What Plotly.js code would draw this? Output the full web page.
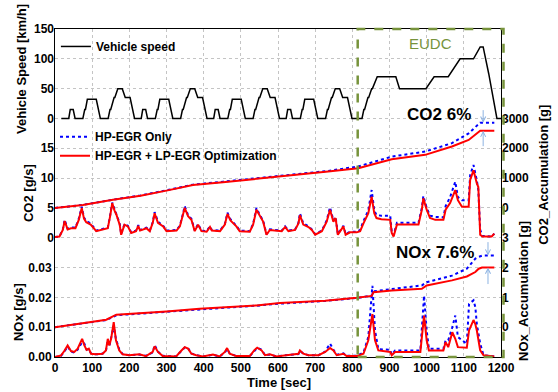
<!DOCTYPE html>
<html><head><meta charset="utf-8">
<script src="https://cdn.plot.ly/plotly-3.0.1.min.js"></script>
<style>html,body{margin:0;padding:0;background:#fff}#chart{width:558px;height:392px}</style>
</head><body><div id="chart"></div>
<script>
// ---------- tick labels ----------
const timeTicks = [0,100,200,300,400,500,600,700,800,900,1000,1100,1200];
const speedTicks = [0,50,100,150];
const co2RateTicks = [0,5,10,15];
const co2AccTicks = [0,1000,2000,3000];
const noxRateTicks = [0,0.01,0.02,0.03];
const noxRateTickText = ['0.00','0.01','0.02','0.03'];
const noxAccTicks = [0,1,2,3];
const gridLevels = [0,0.01,0.02,0.03,0.04,0.05,0.06,0.07,0.08,0.09,0.10,0.11];

// ---------- vehicle speed [km/h] ----------
const speedT = [17,37,41,49,54,75,80,82,87,111,122,143,148,150,159,161,169,181,189,202,214,
  232,236,244,249,270,275,277,282,306,317,338,343,345,354,356,364,376,384,397,409,
  427,431,439,444,465,470,472,477,501,512,533,538,540,549,551,559,571,579,592,604,
  622,626,634,639,660,665,667,672,696,707,728,733,735,744,746,754,766,774,787,799,
  826,831,833,842,844,852,854,867,917,927,998,1020,1058,1090,1126,1144,1152,1167,1180,1189,1200];
const speedV = [0,0,15,15,0,0,15,15,32,32,0,0,15,15,35,35,50,50,35,35,0,
  0,15,15,0,0,15,15,32,32,0,0,15,15,35,35,50,50,35,35,0,
  0,15,15,0,0,15,15,32,32,0,0,15,15,35,35,50,50,35,35,0,
  0,15,15,0,0,15,15,32,32,0,0,15,15,35,35,50,50,35,35,0,
  0,15,15,35,35,50,50,70,70,50,50,70,70,100,100,120,120,75,33,0,0];

// ---------- CO2 rate [g/s] ----------
const co2T = [0,12,21,26,34,43,55,64,72,78,84,96,111,123,142,148,154,160,165,174,178,187,196,205,218,224,229,246,255,263,268,277,291,300,327,336,343,349,358,367,376,385,394,408,417,422,444,457,464,472,488,497,524,533,542,551,560,569,578,591,600,610,619,628,646,655,659,668,682,691,700,718,731,740,749,755,761,767,776,782,794,812,821,830,843,852,859,865,878,902,906,911,920,933,978,987,991,1000,1009,1023,1045,1051,1063,1077,1084,1095,1113,1117,1126,1135,1139,1144,1150,1175,1182];
const co2HP = [0.1,0.2,1.4,3.0,1.5,1.7,1.7,3.2,5.2,3.4,2.8,2.4,1.2,1.4,1.7,3.6,5.9,4.8,4.0,2.4,0.6,2.3,2.0,0.9,1.2,2.1,1.3,1.7,1.2,2.6,4.3,2.7,2.0,1.2,1.3,2.0,3.7,5.3,3.8,3.2,1.2,2.3,1.2,1.1,1.9,1.3,1.2,2.3,4.2,3.1,2.0,1.2,1.1,2.3,5.0,3.8,2.9,0.6,1.4,1.3,1.2,1.2,1.9,1.2,1.4,2.5,4.1,2.4,1.9,1.4,0.6,1.2,2.9,5.1,2.9,3.5,0.6,1.2,2.0,0.6,1.0,1.0,1.3,2.8,4.6,8.0,4.6,3.8,3.7,3.7,1.0,0.4,2.5,2.5,2.5,5.0,7.0,5.0,3.7,3.5,3.4,5.3,6.8,9.4,6.8,6.3,6.3,10.5,12.2,9.6,8.0,1.3,0.3,0.2,0.7];
const co2Opt = [0.1,0.2,1.3,2.8,1.4,1.6,1.6,3.0,5.0,3.2,2.6,2.2,1.1,1.3,1.6,3.5,5.8,4.6,3.9,2.2,0.5,2.2,1.9,0.8,1.1,2.0,1.2,1.6,1.1,2.5,4.1,2.5,1.9,1.1,1.2,1.9,3.6,5.0,3.6,3.0,1.1,2.2,1.1,1.0,1.8,1.2,1.1,2.2,4.0,2.9,1.9,1.1,1.0,2.2,4.7,3.6,2.7,0.5,1.3,1.2,1.1,1.1,1.8,1.1,1.3,2.4,3.8,2.2,1.8,1.3,0.5,1.1,2.7,4.7,2.7,3.3,0.5,1.1,1.9,0.5,0.9,0.9,1.1,2.4,4.1,6.9,4.1,3.3,3.1,3.0,0.8,0.2,2.2,2.2,2.2,4.7,6.6,4.7,3.3,3.0,3.0,4.7,5.8,8.0,6.3,5.2,5.2,9.7,11.3,9.1,8.5,0.5,0.2,0.2,0.7];

// ---------- CO2 accumulation [g] ----------
const co2AccT = [0,75,156,230,300,371,452,542,605,680,735,816,860,906,996,1068,1113,1144,1182];
const co2AccHP = [0,100,275,420,590,780,880,990,1070,1160,1240,1390,1540,1720,1890,2170,2500,2860,2860];
const co2AccOpt = [0,100,270,410,580,770,860,970,1050,1140,1220,1330,1470,1630,1780,2060,2280,2590,2590];

// ---------- NOx rate [g/s] ----------
const noxT = [0,16,25,34,43,52,61,73,79,85,91,97,110,128,137,142,146,151,158,164,173,182,200,227,245,263,268,277,290,326,339,349,358,367,380,398,425,443,457,463,470,488,524,537,544,556,565,578,596,619,655,659,668,682,709,727,740,749,758,776,785,812,830,843,854,861,870,902,906,915,983,993,1000,1006,1045,1051,1058,1069,1077,1084,1108,1114,1126,1131,1135,1144,1153,1182];
const noxHP = [0,0.0004,0.0018,0.0035,0.0018,0.0015,0.0025,0.0050,0.0045,0.0025,0.0025,0.0012,0.0009,0.0011,0.0020,0.0055,0.0035,0.0060,0.0105,0.0060,0.0025,0.0010,0.0006,0.0008,0.0004,0.0015,0.0040,0.0018,0.0004,0.0002,0.0018,0.0032,0.0030,0.0012,0.0006,0.0002,0.0007,0.0002,0.0015,0.0027,0.0012,0.0003,0.0003,0.0022,0.0030,0.0025,0.0006,0.0008,0.0002,0.0006,0.0010,0.0020,0.0012,0.0006,0.0006,0.0018,0.0045,0.0025,0.0008,0.0012,0.0004,0.0004,0.0015,0.0067,0.0239,0.0089,0.0026,0.0024,0.0008,0.0022,0.0022,0.0206,0.0089,0.0028,0.0028,0.0056,0.0056,0.0100,0.0139,0.0067,0.0044,0.0178,0.0190,0.0167,0.0110,0.0045,0.0006,0.0002];
const noxOpt = [0,0.0005,0.0020,0.0039,0.0020,0.0017,0.0028,0.0061,0.0039,0.0024,0.0028,0.0011,0.0009,0.0011,0.0022,0.0061,0.0039,0.0061,0.0117,0.0056,0.0022,0.0009,0.0006,0.0009,0.0003,0.0017,0.0036,0.0017,0.0003,0.0002,0.0020,0.0033,0.0028,0.0011,0.0006,0.0002,0.0008,0.0002,0.0017,0.0030,0.0011,0.0003,0.0003,0.0024,0.0031,0.0022,0.0006,0.0009,0.0002,0.0006,0.0011,0.0022,0.0011,0.0006,0.0006,0.0017,0.0030,0.0022,0.0006,0.0011,0.0003,0.0003,0.0011,0.0056,0.0144,0.0056,0.0022,0.0017,0.0006,0.0017,0.0017,0.0139,0.0056,0.0022,0.0022,0.0050,0.0033,0.0083,0.0061,0.0033,0.0031,0.0089,0.0124,0.0110,0.0089,0.0022,0.0006,0.0002];

// ---------- NOx accumulation [g] ----------
const noxAccT = [0,75,138,165,210,300,389,479,542,605,727,812,852,857,906,987,1000,1068,1108,1131,1140,1149,1182];
const noxAccHP = [0,0.12,0.24,0.40,0.44,0.52,0.61,0.67,0.72,0.79,0.88,0.98,1.06,1.20,1.28,1.40,1.51,1.73,1.96,2.30,2.36,2.40,2.40];
const noxAccOpt = [0,0.13,0.25,0.42,0.45,0.53,0.62,0.68,0.73,0.81,0.89,0.99,1.05,1.17,1.23,1.29,1.40,1.57,1.70,1.85,1.96,2.00,2.00];

const seriesNames = ['Vehicle speed','HP-EGR Only','HP-EGR + LP-EGR Optimization'];

const BLUE = '#0000ff', RED = '#ff0000', OLIVE = '#77933c', ARROW = '#8db3e2';
const blueLine = {color: BLUE, width: 2, dash: 'dot'};
const redLine = {color: RED, width: 2};

const traces = [
  {x: noxT, y: noxHP, yaxis: 'y', mode: 'lines', line: blueLine, showlegend: false, legendgroup: 'hp'},
  {x: noxT, y: noxOpt, yaxis: 'y', mode: 'lines', line: redLine, showlegend: false, legendgroup: 'opt'},
  {x: noxAccT, y: noxAccHP, yaxis: 'y2', mode: 'lines', line: blueLine, showlegend: false, legendgroup: 'hp'},
  {x: noxAccT, y: noxAccOpt, yaxis: 'y2', mode: 'lines', line: redLine, showlegend: false, legendgroup: 'opt'},
  {x: co2T, y: co2HP, yaxis: 'y3', mode: 'lines', line: blueLine, name: seriesNames[1], legend: 'legend2', legendgroup: 'hp'},
  {x: co2T, y: co2Opt, yaxis: 'y3', mode: 'lines', line: redLine, name: seriesNames[2], legend: 'legend2', legendgroup: 'opt'},
  {x: co2AccT, y: co2AccHP, yaxis: 'y4', mode: 'lines', line: blueLine, showlegend: false, legendgroup: 'hp'},
  {x: co2AccT, y: co2AccOpt, yaxis: 'y4', mode: 'lines', line: redLine, showlegend: false, legendgroup: 'opt'},
  {x: speedT, y: speedV, yaxis: 'y5', mode: 'lines', line: {color: '#000', width: 1.5}, name: seriesNames[0], legend: 'legend'}
];

const FAM = 'Arial, "Liberation Sans", sans-serif';
const tickFont = {family: FAM, size: 12, weight: 'bold', color: '#000'};
const titleFont = {family: FAM, size: 13, weight: 'bold', color: '#000'};
const baseY = {showgrid: false, zeroline: false, ticks: '', tickfont: tickFont, showline: false, fixedrange: true};

const last = a => a[a.length - 1];
function label(text, x, y, font, angle) {
  return {xref: 'paper', yref: 'paper', x: x, y: y, xanchor: 'center', yanchor: 'middle',
          text: text, textangle: angle || 0, showarrow: false, font: font};
}
function arrow(yref, x, y, ay) {
  return {xref: 'x', yref: yref, x: x, y: y, ax: 0, ay: ay, showarrow: true, arrowhead: 5,
          arrowsize: 1, arrowwidth: 1, arrowcolor: ARROW, text: ''};
}
const bigFont = {family: FAM, size: 17, weight: 'bold', color: '#000'};

const layout = {
  width: 558, height: 392,
  margin: {l: 55, r: 57, t: 29, b: 35, pad: 0},
  paper_bgcolor: '#fff', plot_bgcolor: '#fff',
  font: {family: FAM, color: '#000', size: 12},
  xaxis: {range: [0, 1200], tickvals: timeTicks, ticktext: timeTicks.map(String), showgrid: true,
    gridcolor: '#c4c4c4', griddash: 'dot', gridwidth: 1, showline: true, mirror: true, linecolor: '#000', linewidth: 1,
    ticks: '', zeroline: false, tickfont: tickFont, fixedrange: true},
  yaxis: Object.assign({}, baseY, {range: [0, 0.11], tickvals: gridLevels,
    ticktext: gridLevels.map((v, i) => i < noxRateTickText.length ? noxRateTickText[i] : ''),
    showgrid: true, gridcolor: '#c4c4c4', griddash: 'dot', gridwidth: 1,
    showline: true, mirror: true, linecolor: '#000', linewidth: 1}),
  yaxis2: Object.assign({}, baseY, {overlaying: 'y', side: 'right', range: [-1, 10], tickvals: noxAccTicks}),
  yaxis3: Object.assign({}, baseY, {overlaying: 'y', side: 'left', range: [-20, 35], tickvals: co2RateTicks}),
  yaxis4: Object.assign({}, baseY, {overlaying: 'y', side: 'right', range: [-5000, 6000], tickvals: co2AccTicks}),
  yaxis5: Object.assign({}, baseY, {overlaying: 'y', side: 'left', range: [-400, 150], tickvals: speedTicks}),
  legend: {x: 0.002, xanchor: 'left', y: 0.991, yanchor: 'top', bgcolor: 'rgba(0,0,0,0)', borderwidth: 0,
    font: {family: FAM, size: 12, weight: 'bold', color: '#000'}},
  legend2: {x: 0.0, xanchor: 'left', y: 0.716, yanchor: 'top', bgcolor: 'rgba(0,0,0,0)', borderwidth: 0, tracegroupgap: 0,
    font: {family: FAM, size: 12, weight: 'bold', color: '#000'}},
  shapes: [
    {type: 'rect', xref: 'paper', yref: 'paper', x0: 0.6787, x1: 1.0056, y0: 0, y1: 1,
     line: {color: OLIVE, width: 2.5, dash: 'dash'}, fillcolor: 'rgba(0,0,0,0)', layer: 'above'}
  ],
  annotations: [
    label('EUDC', 0.843, 0.957, {family: FAM, size: 15, color: OLIVE}),
    label('CO2 6%', 0.862, 0.738, bigFont),
    label('NOx 7.6%', 0.853, 0.320, bigFont),
    label('Time [sec]', 0.502, -0.078, titleFont),
    label('Vehicle Speed [km/h]', -0.0762, 0.878, titleFont, -90),
    label('CO2 [g/s]', -0.0605, 0.50, titleFont, -90),
    label('NOx [g/s]', -0.083, 0.137, titleFont, -90),
    label('CO2_Accumulation [g]', 1.096, 0.555, titleFont, -90),
    label('NOx_Accumulation [g]', 1.049, 0.201, titleFont, -90),
    arrow('y4', 1152, last(co2AccHP), -14),
    arrow('y4', 1152, last(co2AccOpt), 17),
    arrow('y2', 1165, last(noxAccHP), -15),
    arrow('y2', 1165, last(noxAccOpt), 18)
  ]
};

Plotly.newPlot('chart', traces, layout, {staticPlot: true, displayModeBar: false});
</script></body></html>
